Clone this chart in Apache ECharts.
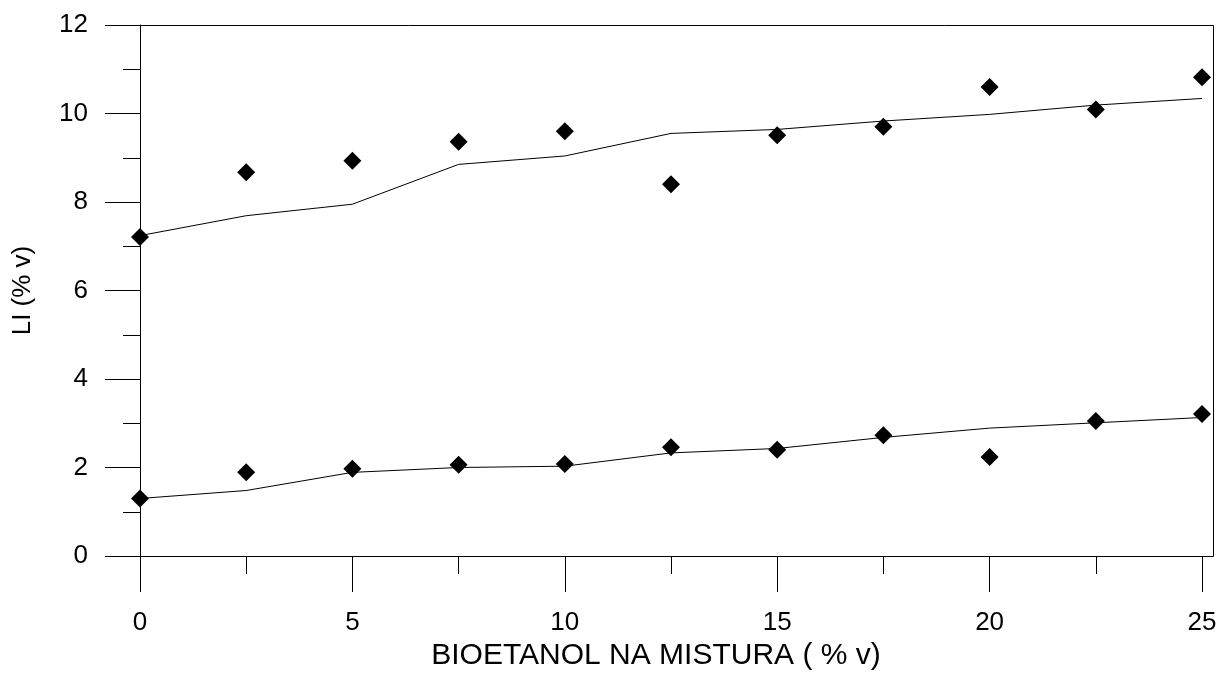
<!DOCTYPE html>
<html>
<head>
<meta charset="utf-8">
<script src="https://cdn.jsdelivr.net/npm/echarts@6/dist/echarts.min.js"></script>
<style>
  html, body { margin: 0; padding: 0; background: #fff; }
  #chart { width: 1221px; height: 673px; }
</style>
</head>
<body>
<div id="chart"></div>
<script>
// bioethanol share in the blend (% v)
const bioetanol = [0, 2.5, 5, 7.5, 10, 12.5, 15, 17.5, 20, 22.5, 25]
// upper curve: measured points and model line
const upperMeasured = [7.21, 8.67, 8.93, 9.36, 9.60, 8.40, 9.51, 9.70, 10.60, 10.09, 10.82]
const upperModel = [7.24, 7.69, 7.95, 8.85, 9.04, 9.55, 9.64, 9.83, 9.98, 10.19, 10.34]
// lower curve: measured points and model line
const lowerMeasured = [1.30, 1.89, 1.97, 2.06, 2.08, 2.46, 2.40, 2.73, 2.24, 3.05, 3.21]
const lowerModel = [1.30, 1.48, 1.89, 2.00, 2.03, 2.33, 2.43, 2.68, 2.89, 3.01, 3.13]

const pairs = (xs, ys) => xs.map((x, i) => [x, ys[i]])

const font = '"Liberation Sans", Arial, sans-serif'
const black = '#000'

let chart = echarts.init(document.getElementById('chart'))
chart.setOption({
    animation: false,
    backgroundColor: '#fff',
    grid: {
        left: 140,
        right: 19,
        top: 25,
        bottom: 117,
        containLabel: false,
        outerBoundsMode: 'none'
    },
    xAxis: {
        type: 'value',
        min: 0,
        max: 25,
        interval: 5,
        name: 'BIOETANOL NA MISTURA ( % v)',
        nameLocation: 'middle',
        nameGap: 62,
        nameTextStyle: { color: black, fontFamily: font, fontSize: 30, padding: [0, 30, 0, 0] },
        axisLine: { show: true, lineStyle: { color: black, width: 1 } },
        axisTick: { show: true, inside: false, length: 36, lineStyle: { color: black } },
        minorTick: { show: true, splitNumber: 2, length: 18, lineStyle: { color: black } },
        axisLabel: { color: black, fontFamily: font, fontSize: 26, margin: 54 },
        splitLine: { show: false },
        minorSplitLine: { show: false }
    },
    yAxis: {
        type: 'value',
        min: 0,
        max: 12,
        interval: 2,
        name: 'LI (% v)',
        nameLocation: 'middle',
        nameGap: 104,
        nameTextStyle: { color: black, fontFamily: font, fontSize: 26 },
        axisLine: { show: true, lineStyle: { color: black, width: 1 } },
        axisTick: { show: true, inside: false, length: 35, lineStyle: { color: black } },
        minorTick: { show: true, splitNumber: 2, length: 17, lineStyle: { color: black } },
        axisLabel: { color: black, fontFamily: font, fontSize: 26, margin: 52 },
        splitLine: { show: false },
        minorSplitLine: { show: false }
    },
    // plot frame (top, right and the extended bottom edge)
    graphic: [{
        type: 'rect',
        shape: { x: 140.5, y: 25.5, width: 1073, height: 531 },
        style: { fill: 'none', stroke: black, lineWidth: 1 },
        silent: true,
        z: 0
    }],
    series: [
        {
            name: 'upper model',
            type: 'line',
            data: pairs(bioetanol, upperModel),
            symbol: 'none',
            lineStyle: { color: black, width: 1 },
            z: 2
        },
        {
            name: 'upper measured',
            type: 'scatter',
            data: pairs(bioetanol, upperMeasured),
            symbol: 'diamond',
            symbolSize: 18,
            itemStyle: { color: black, opacity: 1 },
            z: 3
        },
        {
            name: 'lower model',
            type: 'line',
            data: pairs(bioetanol, lowerModel),
            symbol: 'none',
            lineStyle: { color: black, width: 1 },
            z: 2
        },
        {
            name: 'lower measured',
            type: 'scatter',
            data: pairs(bioetanol, lowerMeasured),
            symbol: 'diamond',
            symbolSize: 18,
            itemStyle: { color: black, opacity: 1 },
            z: 3
        }
    ]
})
</script>
</body>
</html>
